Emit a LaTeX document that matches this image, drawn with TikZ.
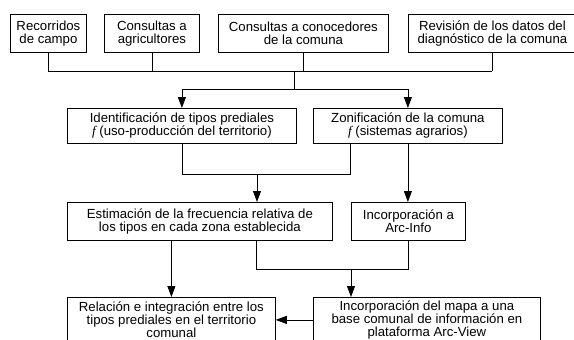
\documentclass[tikz,border=0pt]{standalone}
\usepackage{fontspec}
\setmainfont{Liberation Sans}
\newfontfamily\serifit{Liberation Serif}
\usetikzlibrary{arrows.meta}
\tikzset{
  caja/.style={draw, align=center, inner sep=0pt, anchor=north west,
    font=\fontsize{13.2}{13}\selectfont},
  flecha/.style={-{Triangle[length=11pt,width=8pt]}}
}
\newcommand{\ffun}{{\serifit\itshape f}}
\begin{document}
\begin{tikzpicture}[x=1pt,y=-1pt,line width=0.8pt]
      \useasboundingbox (0,0) rectangle (574,340);
      % fuentes de informacion
      \node[caja, minimum width=76, minimum height=38] (rec) at (10,14) {Recorridos\\de campo};
      \node[caja, minimum width=95, minimum height=38] (agr) at (104,14) {Consultas a\\agricultores};
      \node[caja, minimum width=170, minimum height=38] (con) at (218,14) {Consultas a conocedores\\de la comuna};
      \node[caja, minimum width=168, minimum height=38] (rev) at (408,14) {Revisi\'on de los datos del\\diagn\'ostico de la comuna};
      % tipos y zonas
      \node[caja, minimum width=229, minimum height=35] (ide) at (67,108) {Identificaci\'on de tipos prediales\\\ffun\ (uso-producci\'on del territorio)};
      \node[caja, minimum width=189, minimum height=35] (zon) at (313,108) {Zonificaci\'on de la comuna\\\ffun\ (sistemas agrarios)};
      \node[caja, minimum width=265, minimum height=38] (est) at (67,202) {Estimaci\'on de la frecuencia relativa de\\los tipos en cada zona establecida};
      \node[caja, minimum width=114, minimum height=38] (arc) at (351,202) {Incorporaci\'on a\\Arc-Info};
      \node[caja, minimum width=208, minimum height=45] (rel) at (67,297) {Relaci\'on e integraci\'on entre los\\tipos prediales en el territorio\\comunal};
      \node[caja, minimum width=227, minimum height=45] (map) at (313,297) {Incorporaci\'on del mapa a una\\base comunal de informaci\'on en\\plataforma Arc-View};
      % uniones
      \coordinate (j1) at (294,71);
      \coordinate (j2) at (294,89);
      \coordinate (j3) at (257,174);
      \coordinate (j4) at (351,269);
      \coordinate (zb) at (350,143);
      \coordinate (eb) at (256,240);
      \foreach \n in {rec,agr,con,rev}
        \draw (\n.south) -- (\n.south |- j1);
      \draw (rec.south |- j1) -- (rev.south |- j1);
      \draw (j1) -- (j2);
      \draw[flecha] (j2) -| (ide.north);
      \draw[flecha] (j2) -| (zon.north);
      \draw (ide.south) |- (zb |- j3) -- (zb);
      \draw[flecha] (j3) -- (j3 |- est.north);
      \draw[flecha] (zon.south) -- (zon.south |- arc.north);
      \draw[flecha] (rel.north |- est.south) -- (rel.north);
      \draw (eb) |- (arc.south |- j4) -- (arc.south);
      \draw[flecha] (j4) -- (j4 |- map.north);
      \draw[flecha] (map.west) -- (rel.east);
\end{tikzpicture}
\end{document}
